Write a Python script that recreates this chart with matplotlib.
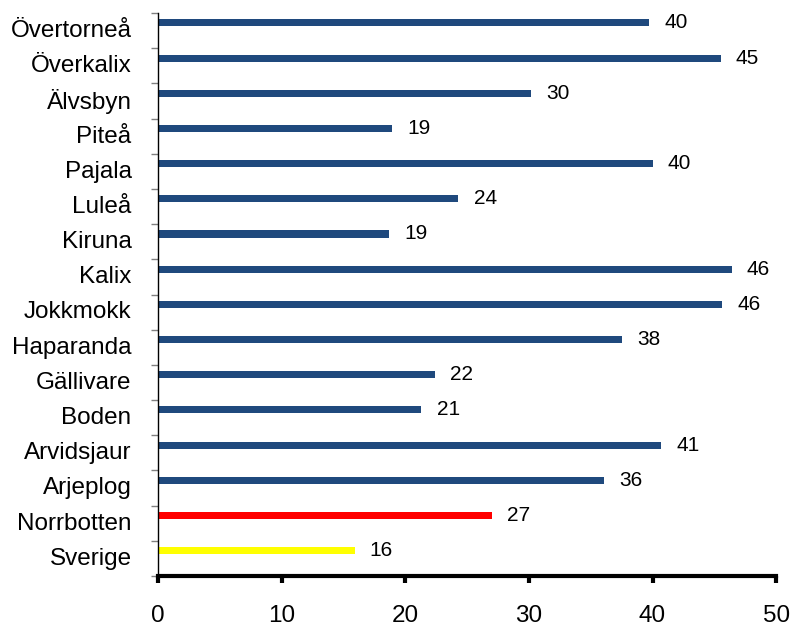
import matplotlib
matplotlib.use("Agg")
import matplotlib.pyplot as plt
import numpy as np

categories = ["Övertorneå", "Överkalix", "Älvsbyn", "Piteå", "Pajala", "Luleå", "Kiruna",
              "Kalix", "Jokkmokk", "Haparanda", "Gällivare", "Boden", "Arvidsjaur",
              "Arjeplog", "Norrbotten", "Sverige"]
values = [39.7, 45.5, 30.2, 18.9, 40.0, 24.3, 18.7, 46.4, 45.6, 37.5, 22.4, 21.3, 40.7,
          36.1, 27.0, 15.9]
labels = ["40", "45", "30", "19", "40", "24", "19", "46", "46", "38", "22", "21", "41",
          "36", "27", "16"]
colors = ["#1F497D"] * 14 + ["#FF0000", "#FFFF00"]
xticks = [0, 10, 20, 30, 40, 50]

plt.rcParams['font.family'] = ['Liberation Sans', 'DejaVu Sans']

fig = plt.figure(figsize=(7.92, 6.26), dpi=100)
ax = fig.add_axes([0.1995, 0.0799, 0.7805, 0.8993])

y = np.arange(len(categories))
ax.barh(y - 0.22, values, height=0.2, color=colors)
for yi, v, lab in zip(y, values, labels):
    ax.annotate(lab, (v, yi - 0.22), xytext=(11, 0), textcoords='offset points',
                ha='left', va='center', fontsize=15)

ax.set_xlim(0, 50)
ax.set_ylim(len(categories) - 0.5, -0.5)
ax.set_xticks(xticks)
ax.set_xticklabels([str(t) for t in xticks], fontsize=17.5)
ax.set_yticks(y - 0.06)
ax.set_yticklabels(categories, fontsize=17.5)
ax.set_yticks(np.arange(-0.5, len(categories) + 0.5, 1), minor=True)

ax.tick_params(axis='y', which='major', length=0, pad=19)
ax.tick_params(axis='y', which='minor', length=5, color='#808080', width=1)
ax.tick_params(axis='x', which='major', length=5, width=3, direction='out', pad=16)

for s in ['top', 'right']:
    ax.spines[s].set_visible(False)
ax.spines['left'].set_linewidth(1)
ax.spines['bottom'].set_linewidth(3)

fig.savefig("out.png", dpi=100)
